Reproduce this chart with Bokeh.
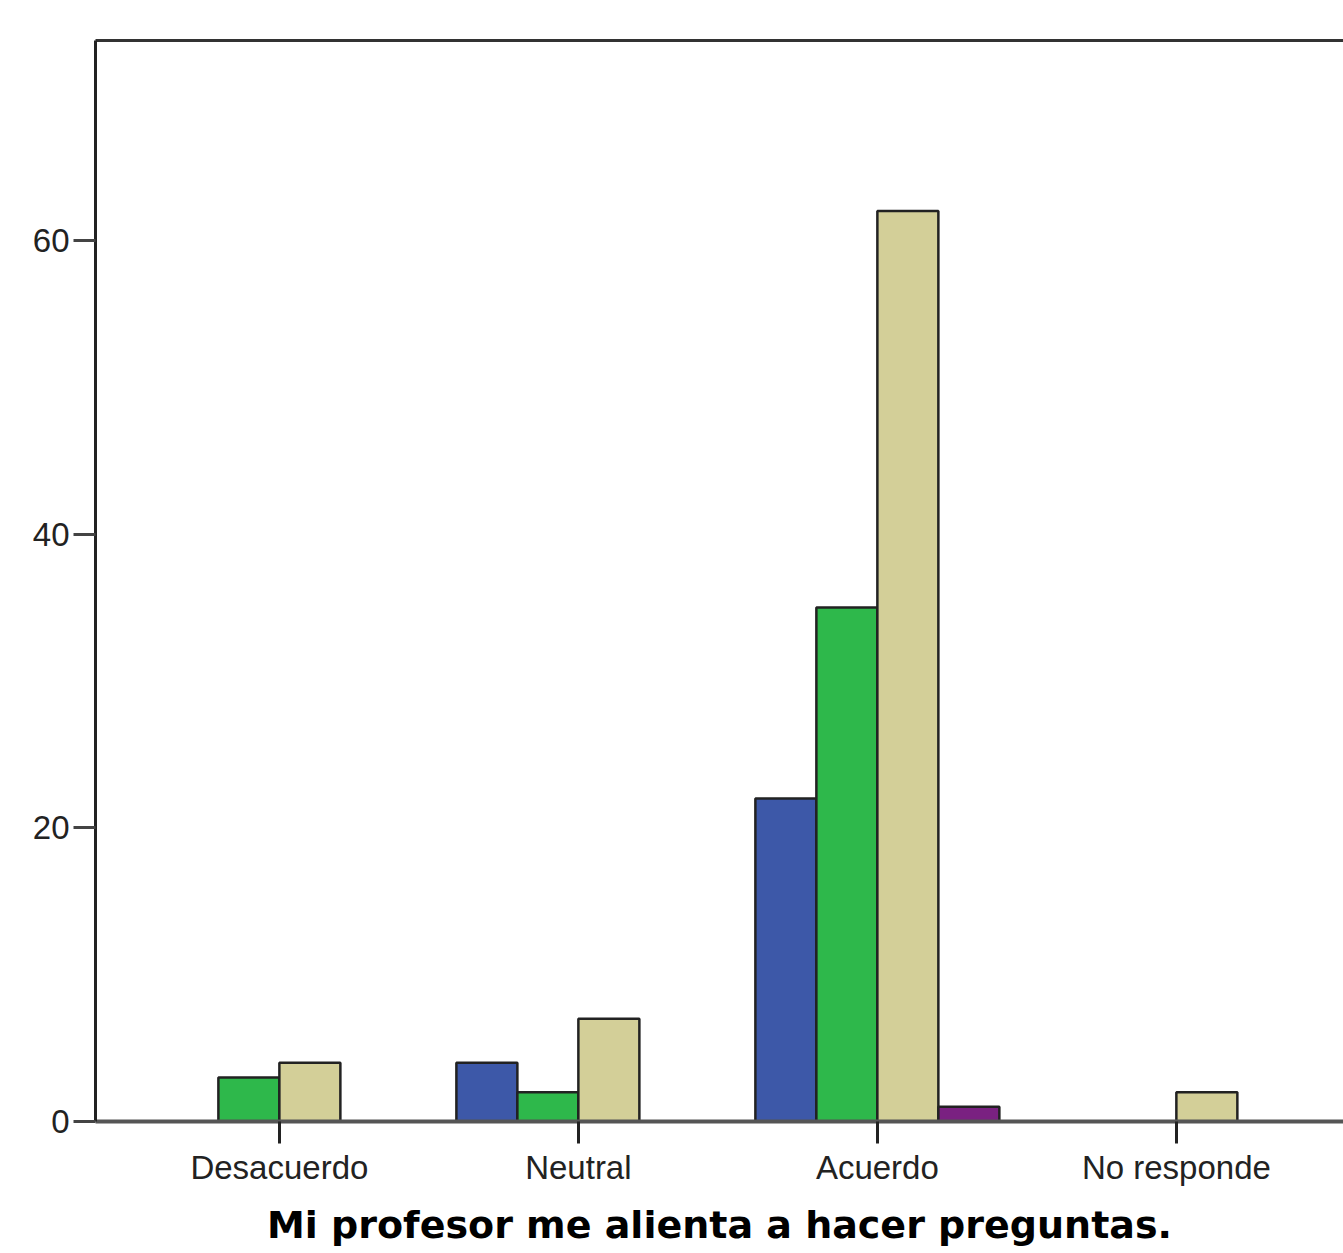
from bokeh.plotting import figure
from bokeh.models import ColumnDataSource, FixedTicker, LinearAxis, Range1d
from bokeh.embed import file_html
from bokeh.resources import INLINE

categories = ["Desacuerdo", "Neutral", "Acuerdo", "No responde"]
serie_azul = [0, 4, 22, 0]
serie_verde = [3, 2, 35, 0]
serie_beige = [4, 7, 62, 2]
serie_morada = [0, 0, 1, 0]
y_ticks = [0, 20, 40, 60]

series = [serie_azul, serie_verde, serie_beige, serie_morada]
colors = ["#3d58a8", "#2eb84b", "#d3cf98", "#7a2181"]
bar_w = 0.204
offsets = [-1.5 * bar_w, -0.5 * bar_w, 0.5 * bar_w, 1.5 * bar_w]

p = figure(width=1343, height=1253, output_backend="svg", toolbar_location=None,
           x_range=Range1d(-0.615, 3.559), y_range=Range1d(0, 73.62),
           min_border_left=95, min_border_top=40, min_border_right=0,
           min_border_bottom=132)
p.background_fill_color = "white"
p.border_fill_color = "white"
p.outline_line_color = None
p.grid.visible = False

for vals, col, off in zip(series, colors, offsets):
    src = ColumnDataSource(dict(x=[i + off for i in range(len(categories))], top=vals))
    p.vbar(x="x", top="top", bottom=0, width=bar_w, source=src,
           fill_color=col, line_color="#222222", line_width=2.5)

# x axis
xa = p.xaxis[0]
xa.ticker = FixedTicker(ticks=list(range(len(categories))))
xa.major_label_overrides = {i: c for i, c in enumerate(categories)}
xa.major_label_text_font = "Liberation Sans"
xa.major_label_text_font_size = "33px"
xa.major_label_text_color = "#222222"
xa.major_label_standoff = 5
xa.major_tick_in = 0
xa.major_tick_out = 22
xa.major_tick_line_width = 3
xa.major_tick_line_color = "#222222"
xa.minor_tick_line_color = None
xa.axis_line_color = "#555555"
xa.axis_line_width = 4
xa.axis_label = "Mi profesor me alienta a hacer preguntas."
xa.axis_label_text_font = "DejaVu Sans"
xa.axis_label_text_font_style = "bold"
xa.axis_label_text_font_size = "38px"
xa.axis_label_text_color = "#000000"
xa.axis_label_standoff = 14

# y axis
ya = p.yaxis[0]
ya.ticker = FixedTicker(ticks=y_ticks)
ya.major_label_text_font = "Liberation Sans"
ya.major_label_text_font_size = "33px"
ya.major_label_text_color = "#222222"
ya.major_label_standoff = 4
ya.major_tick_in = 0
ya.major_tick_out = 22
ya.major_tick_line_width = 3
ya.major_tick_line_color = "#444444"
ya.minor_tick_line_color = None
ya.axis_line_color = "#222222"
ya.axis_line_width = 3

# top border
top = LinearAxis(major_tick_line_color=None, minor_tick_line_color=None,
                 major_label_text_font_size="0px", axis_line_color="#333333",
                 axis_line_width=3)
top.ticker = FixedTicker(ticks=[])
p.add_layout(top, "above")

open("out.html", "w").write(file_html(p, INLINE))
